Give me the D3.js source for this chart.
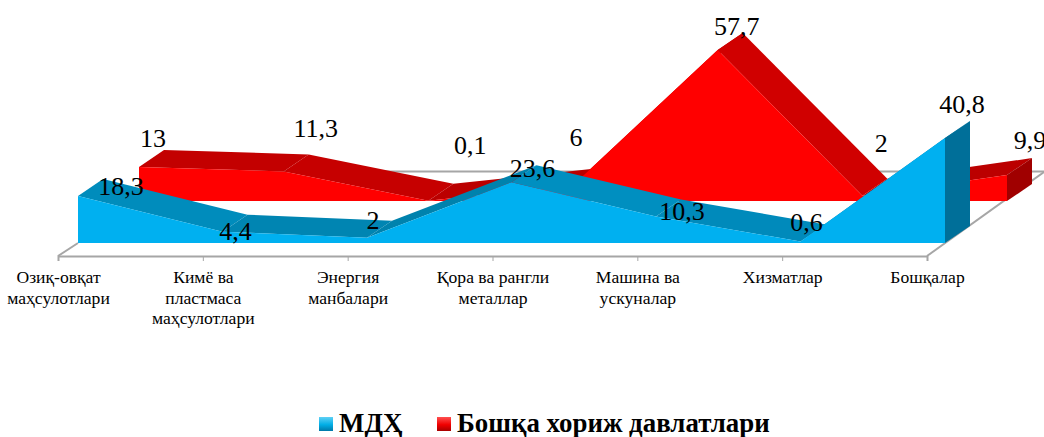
<!DOCTYPE html>
<html>
<head>
<meta charset="utf-8">
<script src="https://cdn.jsdelivr.net/npm/d3@7"></script>
<style>
  html, body { margin: 0; padding: 0; background: #fff; overflow: hidden; }
  svg { display: block; }
  text { font-family: "Liberation Serif", serif; fill: #000; }
  .tick text { font-size: 17.6px; }
</style>
</head>
<body>
<div id="chart"></div>
<script>
// values
var categories = [
  "Озиқ-овқат маҳсулотлари",
  "Кимё ва пластмаса маҳсулотлари",
  "Энергия манбалари",
  "Қора ва рангли металлар",
  "Машина ва ускуналар",
  "Хизматлар",
  "Бошқалар"
];
var categoryLines = [
  ["Озиқ-овқат", "маҳсулотлари"],
  ["Кимё ва", "пластмаса", "маҳсулотлари"],
  ["Энергия", "манбалари"],
  ["Қора ва рангли", "металлар"],
  ["Машина ва", "ускуналар"],
  ["Хизматлар"],
  ["Бошқалар"]
];
var mdhValues = [18.3, 4.4, 2, 23.6, 10.3, 0.6, 40.8];
var otherValues = [13, 11.3, 0.1, 6, 57.7, 2, 9.9];
var mdhName = "МДҲ";
var otherName = "Бошқа хориж давлатлари";

var width = 1044, height = 437;
var depthX = 25, depthY = -17;   // 3d offset of one series band

var svg = d3.select("#chart").append("svg")
  .attr("width", width)
  .attr("height", height);

var defs = svg.append("defs");
function bevel(id, light, mid, dark) {
  var g = defs.append("linearGradient").attr("id", id)
    .attr("x1", 0).attr("y1", 0).attr("x2", 0).attr("y2", 1);
  g.append("stop").attr("offset", "0%").attr("stop-color", light);
  g.append("stop").attr("offset", "55%").attr("stop-color", mid);
  g.append("stop").attr("offset", "100%").attr("stop-color", dark);
}
bevel("legendBlue", "#5fd0f5", "#00aee6", "#0078a8");
bevel("legendRed", "#ff5050", "#f00000", "#a80000");

// floor + category axis
var xAxisScale = d3.scalePoint().domain(categories).range([58, 927]);
var floorY = 256;

var floor = svg.append("g").attr("class", "floor");
floor.append("path")
  .attr("d", d3.line()([[58, floorY], [78, 243]]))
  .attr("stroke", "#a6a6a6").attr("stroke-width", 2);
floor.append("path")
  .attr("d", d3.line()([[927, floorY], [1044, 172]]))
  .attr("stroke", "#a6a6a6").attr("stroke-width", 2);
floor.append("path")
  .attr("d", d3.line()([[176, 171.5], [1044, 171.5]]))
  .attr("stroke", "#a6a6a6").attr("stroke-width", 2);

var axis = svg.append("g")
  .attr("class", "x-axis")
  .attr("transform", "translate(0," + floorY + ")")
  .call(d3.axisBottom(xAxisScale).tickSize(5).tickFormat(""));
axis.select(".domain").attr("stroke", "#a6a6a6").attr("stroke-width", 2);
axis.selectAll(".tick line").attr("stroke", "#a6a6a6");

axis.selectAll(".tick text")
  .attr("y", 0).attr("dy", null)
  .each(function (d, i) {
    d3.select(this).selectAll("tspan")
      .data(categoryLines[i])
      .join("tspan")
      .attr("x", 0)
      .attr("y", function (_, j) { return 27 + j * 20.5; })
      .text(function (t) { return t; });
  });

// draws one 3d area band
function drawBand(values, x, y, front, end, faces) {
  var g = svg.append("g");
  var base = y(0);

  g.selectAll(".face")
    .data(values.slice(1))
    .join("path")
    .attr("class", "face")
    .attr("fill", function (d, i) { return faces[i]; })
    .attr("d", function (d, i) {
      var x0 = x(i), y0 = y(values[i]), x1 = x(i + 1), y1 = y(d);
      return d3.line()([
        [x0, y0], [x1, y1],
        [x1 + depthX, y1 + depthY], [x0 + depthX, y0 + depthY]
      ]) + "Z";
    });

  var last = values.length - 1;
  g.append("path")
    .attr("fill", end)
    .attr("d", d3.line()([
      [x(last), y(values[last])],
      [x(last) + depthX, y(values[last]) + depthY],
      [x(last) + depthX, base + depthY],
      [x(last), base]
    ]) + "Z");

  g.append("path")
    .datum(values)
    .attr("fill", front)
    .attr("d", d3.area()
      .x(function (d, i) { return x(i); })
      .y0(base)
      .y1(function (d) { return y(d); }));
}

var xOther = d3.scaleLinear().domain([0, 6]).range([139, 1007]);
var yOther = d3.scaleLinear().domain([0, 57.7]).range([201, 50]);
var xMdh = d3.scaleLinear().domain([0, 6]).range([78, 945]);
var yMdh = d3.scaleLinear().domain([0, 40.8]).range([243, 138]);

drawBand(otherValues, xOther, yOther, "#ff0000", "#a00000",
  ["#c30000", "#c60000", "#bb0000", "#bb0000", "#d00000", "#bb0000"]);
drawBand(mdhValues, xMdh, yMdh, "#00b0f0", "#006f99",
  ["#008cbc", "#0085b2", "#0082ad", "#008fc0", "#008abb", "#007aa3"]);

// data labels, placed by hand like in the original
var otherNudge = [[14, -28], [32, -43], [42, -55], [3, -48], [19, -24], [19, -52], [23, -35]];
var mdhNudge = [[43, -9], [13, 0], [6, -17], [21, -14], [26, -5], [6, -19], [17, -34]];

function drawLabels(values, x, y, nudge) {
  svg.append("g").selectAll("text")
    .data(values)
    .join("text")
    .attr("text-anchor", "middle")
    .attr("dominant-baseline", "central")
    .attr("font-size", 26)
    .attr("x", function (d, i) { return x(i) + nudge[i][0]; })
    .attr("y", function (d, i) { return y(d) + nudge[i][1]; })
    .text(function (d) { return String(d).replace(".", ","); });
}
drawLabels(otherValues, xOther, yOther, otherNudge);
drawLabels(mdhValues, xMdh, yMdh, mdhNudge);

// legend
var legend = svg.append("g").attr("class", "legend");
var legendItems = [
  { name: mdhName, fill: "url(#legendBlue)", x: 319 },
  { name: otherName, fill: "url(#legendRed)", x: 437 }
];
legendItems.forEach(function (d) {
  legend.append("rect")
    .attr("x", d.x).attr("y", 417)
    .attr("width", 14).attr("height", 14)
    .attr("fill", d.fill);
  legend.append("text")
    .attr("x", d.x + 20).attr("y", 432)
    .attr("font-size", 26.9)
    .attr("font-weight", "bold")
    .text(d.name);
});
</script>
</body>
</html>
